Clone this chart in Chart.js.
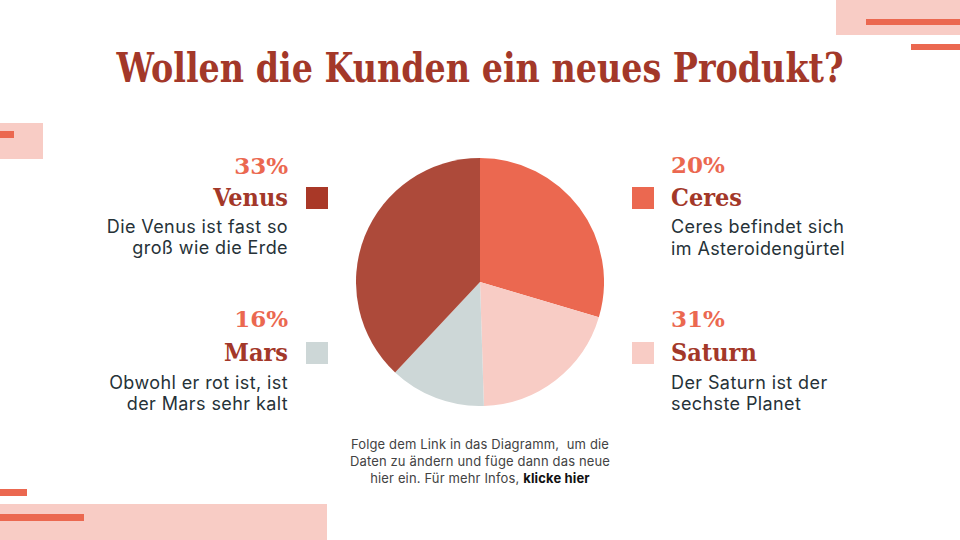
<!DOCTYPE html>
<html><head><meta charset="utf-8">
<script src="https://cdn.jsdelivr.net/npm/chart.js@4/dist/chart.umd.min.js"></script>
<style>
html,body{margin:0;padding:0;background:#fff;}
#stage{position:relative;width:960px;height:540px;overflow:hidden;background:#fff;}
.deco{position:absolute;}
.t{position:absolute;white-space:pre;}
#pieBox{position:absolute;left:356px;top:158px;width:248px;height:248px;}
</style></head>
<body><div id="stage">
<div class="deco" style="left:836px;top:0;width:124px;height:35px;background:#F8CCC5"></div>
<div class="deco" style="left:866px;top:19px;width:94px;height:6px;background:#EB6850"></div>
<div class="deco" style="left:911px;top:44px;width:49px;height:6px;background:#EB6850"></div>
<div class="deco" style="left:0;top:123px;width:43px;height:36px;background:#F8CCC5"></div>
<div class="deco" style="left:0;top:131px;width:14px;height:7px;background:#EB6850"></div>
<div class="deco" style="left:0;top:489px;width:27px;height:7px;background:#EB6850"></div>
<div class="deco" style="left:0;top:504px;width:327px;height:36px;background:#F8CCC5"></div>
<div class="deco" style="left:0;top:514px;width:84px;height:7px;background:#EB6850"></div>
<div id="pieBox"><canvas id="pie"></canvas></div>
</div>
<script>
// ---- data ----
const title = "Wollen die Kunden ein neues Produkt?";
const categories = ["Ceres", "Saturn", "Mars", "Venus"];
const pieValues = [29.6, 19.9, 12.5, 38.0];
const percentLabels = ["20%", "31%", "16%", "33%"];
const descriptions = [
  ["Ceres befindet sich", "im Asteroidengürtel"],
  ["Der Saturn ist der", "sechste Planet"],
  ["Obwohl er rot ist, ist", "der Mars sehr kalt"],
  ["Die Venus ist fast so", "groß wie die Erde"]
];
const sliceColors = ["#EB6850", "#F8CCC5", "#CDD7D7", "#AD4A3A"];
const keyColors = ["#EB6850", "#F8CCC5", "#CDD7D7", "#A93827"];
const footLines = ["Folge dem Link in das Diagramm,  um die", "Daten zu ändern und füge dann das neue", "hier ein. Für mehr Infos, <b style=\"color:#111\">klicke hier</b>"];

// ---- chart ----
new Chart(document.getElementById('pie'), {
  type: 'pie',
  data: { labels: categories, datasets: [{ data: pieValues, backgroundColor: sliceColors, borderWidth: 0, hoverOffset: 0 }] },
  options: { responsive: true, maintainAspectRatio: false, animation: false,
    layout: { padding: 0 },
    plugins: { legend: { display: false }, tooltip: { enabled: false } } }
});

// ---- text layout ----
const stage = document.getElementById('stage');
function place(html, opts) {
  const d = document.createElement('div');
  d.className = 't';
  d.innerHTML = html;
  const F = opts.size, L = opts.lh || F * 1.2;
  d.style.font = (opts.weight || 'normal') + ' ' + F + 'px ' + opts.family;
  if (opts.stretch) d.style.fontStretch = opts.stretch;
  if (opts.ls) d.style.letterSpacing = opts.ls + 'px';
  d.style.lineHeight = L + 'px';
  d.style.color = opts.color;
  d.style.top = (opts.base - L / 2 - opts.k * F) + 'px';
  if (opts.align === 'right') { d.style.right = (960 - opts.x) + 'px'; d.style.textAlign = 'right'; }
  else if (opts.align === 'center') { d.style.left = '0'; d.style.width = '960px'; d.style.textAlign = 'center'; }
  else d.style.left = opts.x + 'px';
  stage.appendChild(d);
  return d;
}
// title
const tEl = place(title, { size: 41, family: '"DejaVu Serif"', stretch: 'condensed', weight: 'bold', color: '#A33829', base: 83, k: 0.346, align: 'center' });
(function fit() {
  const span = document.createElement('span'); span.textContent = title; tEl.textContent = ''; tEl.appendChild(span);
  const w = span.getBoundingClientRect().width;
  const target = 727;
  tEl.style.transform = 'scaleX(' + (target / w) + ')';
  tEl.style.transformOrigin = '480px 50%';
})();

const serif = '"DejaVu Serif"';
const sans = 'Inter';
// right column: Ceres (0), Saturn (1); left column: Mars (2), Venus (3)
const rows = [
  { i: 0, side: 'R', pct: 173, name: 207, d1: 233, d2: 255, sq: 187 },
  { i: 1, side: 'R', pct: 327, name: 362, d1: 389, d2: 410, sq: 342 },
  { i: 2, side: 'L', pct: 327, name: 362, d1: 389, d2: 410, sq: 342 },
  { i: 3, side: 'L', pct: 174, name: 207, d1: 233, d2: 254, sq: 187 }
];
rows.forEach(r => {
  const right = r.side === 'L';
  const x = right ? 288 : 671;
  const al = right ? 'right' : 'left';
  place(percentLabels[r.i], { size: 23, family: serif, weight: 'bold', color: '#EB6850', base: r.pct, k: 0.346, x, align: al });
  place(categories[r.i], { size: 25, family: serif, weight: 'bold', stretch: 'condensed', color: '#A33829', base: r.name, k: 0.346, x, align: al });
  place(descriptions[r.i][0], { size: 18, ls: 0.4, family: sans, color: '#263238', base: r.d1, k: 0.364, x, align: al });
  place(descriptions[r.i][1], { size: 18, ls: 0.4, family: sans, color: '#263238', base: r.d2, k: 0.364, x, align: al });
  const sq = document.createElement('div');
  sq.className = 'deco';
  sq.style.left = (right ? 306 : 632) + 'px';
  sq.style.top = r.sq + 'px';
  sq.style.width = '22px'; sq.style.height = '22px';
  sq.style.background = keyColors[r.i];
  stage.appendChild(sq);
});
footLines.forEach((ln, j) => {
  place(ln, { size: 13, ls: 0.15, family: sans, color: '#434343', base: 450 + j * 17, k: 0.364, align: 'center' });
});
</script>
</body></html>
